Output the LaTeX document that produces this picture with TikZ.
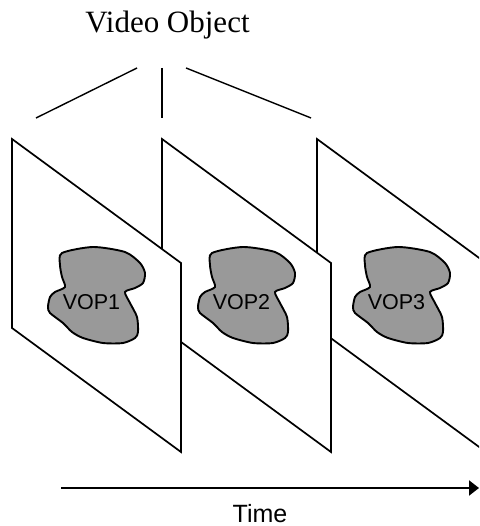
\documentclass[tikz,border=0pt]{standalone}
\usepackage{fontspec}
\setmainfont{Liberation Serif}
\newfontfamily\arialfont{Liberation Sans}
\usetikzlibrary{arrows.meta}
\definecolor{blobgray}{RGB}{153,153,153}
\tikzset{
  framebox/.style={draw=black, fill=white, line width=1.7pt, line join=miter},
  blobshape/.style={draw=black, fill=blobgray, line width=1.9pt},
  fanline/.style={draw=black, line width=1.4pt},
  voplabel/.style={font=\arialfont\fontsize{21.5}{24}\selectfont, anchor=base, inner sep=0pt},
  timeaxis/.style={draw=black, line width=2pt, -{Triangle[length=10pt,width=15pt]}},
}
% one video object plane: a slanted frame with its left edge at x=#1
\newcommand{\vopframe}[2]{%
  \draw[framebox] (#1,139) -- ++(169,124) -- ++(0,189) -- ++(-169,-124) -- cycle;
  \begin{scope}[xshift=#2pt]
    \draw[blobshape] plot[smooth cycle, tension=0.45] coordinates {
      (62,253) (93,247) (125,252) (140,263) (145,273) (143,283) (135,288)
      (125,292) (130,303) (137,317) (138,332) (135,338) (123,343) (103,343)
      (83,338) (72,332) (63,323) (50,313) (48,307) (50,297) (55,292)
      (65,287) (62,277) (60,265)};
  \end{scope}}
\begin{document}
\begin{tikzpicture}[x=1pt, y=-1pt]
  \clip (0,0) rectangle (479,526);
  \fill[white] (0,0) rectangle (479,526);

  % title and the fan of lines below it
  \node[font=\fontsize{31}{34}\selectfont, anchor=base, inner sep=0pt] (title) at (167.5,33) {Video Object};
  \coordinate (fanLa) at (137,68);  \coordinate (fanLb) at (36,118);
  \coordinate (fanMa) at (162,68);  \coordinate (fanMb) at (162,118);
  \coordinate (fanRa) at (186,68);  \coordinate (fanRb) at (311,118);
  \draw[fanline] (fanLa) -- (fanLb);
  \draw[fanline] (fanMa) -- (fanMb);
  \draw[fanline] (fanRa) -- (fanRb);

  % planes, drawn back to front
  \vopframe{317}{305}
  \node[voplabel] (vop3) at (396.5,309) {VOP3};
  \vopframe{162}{150}
  \node[voplabel] (vop2) at (241.5,309) {VOP2};
  \vopframe{12}{0}
  \node[voplabel] (vop1) at (91.5,309) {VOP1};

  % time axis
  \coordinate (tstart) at (61,488);
  \coordinate (tend) at (479,488);
  \draw[timeaxis] (tstart) -- (tend);
  \node[font=\arialfont\fontsize{25}{28}\selectfont, anchor=base, inner sep=0pt] (time) at (260,522) {Time};
\end{tikzpicture}
\end{document}
